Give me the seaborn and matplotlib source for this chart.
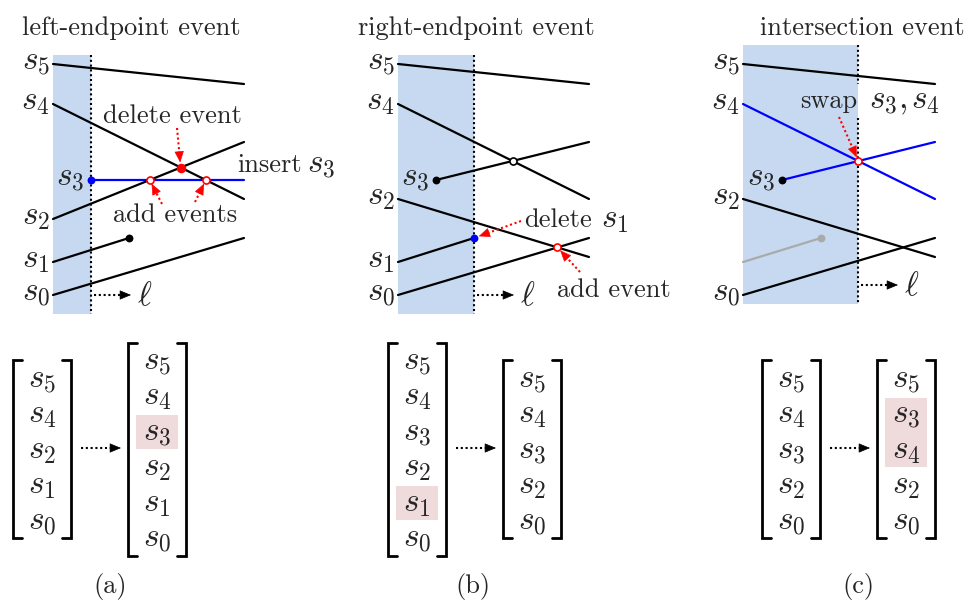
import numpy as np
import pandas as pd
import seaborn as sns
import matplotlib.pyplot as plt
from matplotlib.patches import Rectangle

sns.set_theme(style="white")
plt.rcParams["mathtext.fontset"] = "cm"
plt.rcParams["font.family"] = ["cmr10", "DejaVu Serif"]
plt.rcParams["axes.formatter.use_mathtext"] = True

# segments of each panel (figure pixel coords, y downwards)
names = ["s5", "s4", "s3", "s2", "s1", "s0"]
seg_a = pd.DataFrame({"name": names,
                      "x0": [53, 53, 91, 53, 53, 53], "y0": [64, 104, 180, 219, 262, 295],
                      "x1": [244, 244, 244, 244, 129, 244], "y1": [84, 199, 180, 142, 238, 238],
                      "color": ["black", "black", "blue", "black", "black", "black"]})
seg_b = pd.DataFrame({"name": names,
                      "x0": [398, 398, 436, 398, 398, 398], "y0": [64, 104, 180, 199, 262, 295],
                      "x1": [589, 589, 589, 589, 474, 589], "y1": [84, 199, 142, 257, 238, 238],
                      "color": ["black"] * 6})
seg_c = pd.DataFrame({"name": names,
                      "x0": [743, 743, 782, 743, 743, 743], "y0": [64, 104, 180, 199, 262, 295],
                      "x1": [935, 935, 935, 935, 821, 935], "y1": [84, 199, 142, 257, 238, 238],
                      "color": ["black", "blue", "blue", "black", "#aaaaaa", "black"]})
segments = [seg_a, seg_b, seg_c]

# which segment labels sit at the left edge / near the start point
left_labels = [["s5", "s4", "s2", "s1", "s0"], ["s5", "s4", "s2", "s1", "s0"], ["s5", "s4", "s2", "s0"]]
start_labels = [["s3"], ["s3"], ["s3"]]

# endpoint dots: (panel, segment, end, color)
endpoints = [(0, "s3", 0, "blue"), (0, "s1", 1, "black"),
             (1, "s3", 0, "black"), (1, "s1", 1, "blue"),
             (2, "s3", 0, "black"), (2, "s1", 1, "#aaaaaa")]
# events: (panel, seg A, seg B, face, edge)
events = [(0, "s4", "s2", "red", "red"), (0, "s3", "s2", "white", "red"), (0, "s3", "s4", "white", "red"),
          (1, "s4", "s3", "white", "black"), (1, "s2", "s0", "white", "red"),
          (2, "s4", "s3", "white", "red")]

titles = ["left-endpoint event", "right-endpoint event", "intersection event"]
title_x = [22, 358, 760]
sweep_x = [91, 474, 858]
sweep_gap = [None, None, (84, 118)]
region_left = [53, 398, 743]
region_top = [55, 55, 45]
region_bot = [314, 314, 304]

# status lists before / after
lists_before = [["s_5", "s_4", "s_2", "s_1", "s_0"],
                ["s_5", "s_4", "s_3", "s_2", "s_1", "s_0"],
                ["s_5", "s_4", "s_3", "s_2", "s_0"]]
lists_after = [["s_5", "s_4", "s_3", "s_2", "s_1", "s_0"],
               ["s_5", "s_4", "s_3", "s_2", "s_0"],
               ["s_5", "s_3", "s_4", "s_2", "s_0"]]
hl_before = [[], [4], []]
hl_after = [[2], [], [1, 2]]
list_x_before = [42, 417, 791]
list_x_after = [157, 532, 906]
captions = ["(a)", "(b)", "(c)"]
caption_x = [110, 473, 858]

BLUE_BG = "#c6d9f1"
PINK = "#efdbdb"
FS = 19
MFS = 24
DOT = (0, (1, 1.3))

fig = plt.figure(figsize=(9.69, 6.09), dpi=100)
ax = fig.add_axes([0, 0, 1, 1])
ax.set_xlim(0, 969)
ax.set_ylim(609, 0)
ax.axis("off")


def seg_line(df, name):
    r = df[df.name == name].iloc[0]
    return r.x0, r.y0, r.x1, r.y1


def intersect(df, a, b):
    ax0, ay0, ax1, ay1 = seg_line(df, a)
    bx0, by0, bx1, by1 = seg_line(df, b)
    ma = (ay1 - ay0) / (ax1 - ax0)
    mb = (by1 - by0) / (bx1 - bx0)
    x = ((by0 - mb * bx0) - (ay0 - ma * ax0)) / (ma - mb)
    return x, ay0 + ma * (x - ax0)


def dotted_arrow(x0, y0, x1, y1, color, shrink=0, head=10, lw=1.5):
    d = np.hypot(x1 - x0, y1 - y0)
    ux, uy = (x1 - x0) / d, (y1 - y0) / d
    x1, y1 = x1 - ux * shrink, y1 - uy * shrink
    ax.plot([x0, x1 - ux * head * 0.7], [y0, y1 - uy * head * 0.7], color=color,
            ls=DOT, lw=lw, zorder=6)
    ax.annotate("", xy=(x1, y1), xytext=(x1 - ux * head, y1 - uy * head),
                arrowprops=dict(arrowstyle="-|>,head_length=0.6,head_width=0.25", color=color,
                                lw=0.5, mutation_scale=12, shrinkA=0, shrinkB=0), zorder=6)


for p in range(3):
    df = segments[p]
    ax.add_patch(Rectangle((region_left[p], region_top[p]), sweep_x[p] - region_left[p],
                           region_bot[p] - region_top[p], color=BLUE_BG, lw=0, zorder=0))
    if sweep_gap[p] is None:
        pieces = [(region_top[p], region_bot[p])]
    else:
        pieces = [(region_top[p], sweep_gap[p][0]), (sweep_gap[p][1], region_bot[p])]
    for ya, yb in pieces:
        ax.plot([sweep_x[p], sweep_x[p]], [ya, yb], color="black", ls=DOT, lw=1.5, zorder=3)
    for _, r in df.iterrows():
        sns.lineplot(x=[r.x0, r.x1], y=[r.y0, r.y1], color=r.color, lw=1.6, ax=ax,
                     sort=False, estimator=None, zorder=2)
    for nm in left_labels[p]:
        x0, y0, _, _ = seg_line(df, nm)
        ax.text(x0 - 3, y0 + 5, f"$s_{nm[1]}$", fontsize=MFS, ha="right", va="baseline")
    for nm in start_labels[p]:
        x0, y0, _, _ = seg_line(df, nm)
        ax.text(x0 - 7, y0 + 5, f"$s_{nm[1]}$", fontsize=MFS, ha="right", va="baseline")
    ax.text(title_x[p], 35, titles[p], fontsize=FS, ha="left", va="baseline")

    # sweep direction arrow
    ly = region_bot[p] - 19
    dotted_arrow(sweep_x[p] + 3, ly, sweep_x[p] + 40, ly, "black")
    ax.text(sweep_x[p] + 46, ly + 10, r"$\ell$", fontsize=MFS, ha="left", va="baseline")

    # status lists
    for vals, hl, cx in [(lists_before[p], hl_before[p], list_x_before[p]),
                         (lists_after[p], hl_after[p], list_x_after[p])]:
        n = len(vals)
        step = 35.5
        ys = [449 + (i - (n - 1) / 2) * step for i in range(n)]
        top, bot = 449 - n * step / 2, 449 + n * step / 2
        for i, v in enumerate(vals):
            ax.text(cx, ys[i] + 2, f"${v}$", fontsize=MFS, ha="center", va="center", zorder=3)
        if hl:
            ax.add_patch(Rectangle((cx - 21, ys[hl[0]] - 16), 42, 34 + step * (len(hl) - 1),
                                   color=PINK, lw=0, zorder=1))
        for side in (-1, 1):
            xe = cx + side * 29
            ax.plot([xe - side * 9, xe, xe, xe - side * 9], [top, top, bot, bot],
                    color="black", lw=2, solid_joinstyle="miter", zorder=2)
    dotted_arrow(list_x_before[p] + 39, 448, list_x_after[p] - 36, 448, "black")
    ax.text(caption_x[p], 587, captions[p], fontsize=FS, ha="center", va="center")

for p, nm, end, col in endpoints:
    x0, y0, x1, y1 = seg_line(segments[p], nm)
    x, y = (x0, y0) if end == 0 else (x1, y1)
    ax.scatter([x], [y], s=32, color=col, zorder=5, lw=0)

ev_xy = []
for p, a, b, fc, ec in events:
    x, y = intersect(segments[p], a, b)
    ev_xy.append((x, y))
    ax.scatter([x], [y], s=32 if fc == "red" else 26, facecolor=fc, edgecolor=ec, lw=1.2, zorder=5)

# annotations
ax.text(172, 123, "delete event", fontsize=FS, ha="center", va="baseline")
dotted_arrow(177, 128, *ev_xy[0], "red", shrink=5)
ax.text(237, 172, "insert", fontsize=FS, ha="left", va="baseline")
ax.text(307, 172, "$s_3$", fontsize=MFS, ha="left", va="baseline")
ax.text(175, 222, "add events", fontsize=FS, ha="center", va="baseline")
dotted_arrow(162, 204, *ev_xy[1], "red", shrink=4)
dotted_arrow(195, 202, *ev_xy[2], "red", shrink=4)

ax.text(524, 227, "delete", fontsize=FS, ha="left", va="baseline")
ax.text(601, 227, "$s_1$", fontsize=MFS, ha="left", va="baseline")
x1b, y1b = seg_line(seg_b, "s1")[2:]
dotted_arrow(521, 221, x1b, y1b, "red", shrink=5)
ax.text(557, 297, "add event", fontsize=FS, ha="left", va="baseline")
dotted_arrow(580, 272, *ev_xy[4], "red", shrink=4)

ax.text(800, 108, "swap", fontsize=FS, ha="left", va="baseline", zorder=4)
ax.text(869, 108, r"$s_3,$", fontsize=MFS, ha="left", va="baseline", zorder=4)
ax.text(911, 108, r"$s_4$", fontsize=MFS, ha="left", va="baseline", zorder=4)
dotted_arrow(839, 117, *ev_xy[5], "red", shrink=4)

fig.savefig("out.png", dpi=100)
